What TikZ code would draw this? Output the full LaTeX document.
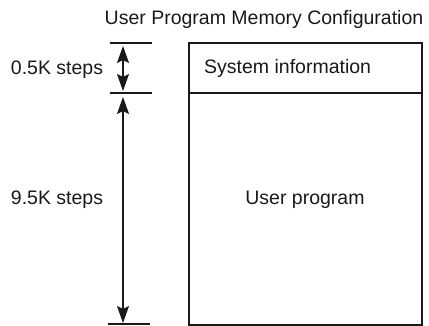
\documentclass[tikz,border=0pt]{standalone}
\usepackage{fontspec}
\setmainfont{Liberation Sans}
\usetikzlibrary{arrows.meta}
\begin{document}
\begin{tikzpicture}[x=1pt,y=-1pt,
  lbl/.style={font=\fontsize{19.5}{22}\selectfont, text=black!90, inner sep=0pt, anchor=base},
  tick/.style={line width=1.8pt, black!90},
  boxline/.style={draw=black!90, line width=1.6pt},
  dim/.style={line width=1.2pt, black!90, {Stealth[length=17pt,width=12pt,inset=3pt]}-{Stealth[length=17pt,width=12pt,inset=3pt]}, shorten <=3pt, shorten >=2pt}]
\useasboundingbox (0,0) rectangle (429,326);
% texts
\node[lbl] (title) at (264,25) {User Program Memory Configuration};
\node[lbl] (small) at (57,75) {0.5K steps};
\node[lbl] (big) at (57,205) {9.5K steps};
% boxes
\node[boxline, minimum width=233pt, minimum height=50pt, inner sep=0pt] (sys) at (305.5,68) {};
\node[boxline, minimum width=233pt, minimum height=232pt, inner sep=0pt] (usr) at (305.5,209) {};
\node[lbl, anchor=base west] (systxt) at (204,74) {System information};
\node[lbl] (usrtxt) at (305,205) {User program};
% ticks
\coordinate (t1a) at (110,43); \coordinate (t1b) at (152,43);
\coordinate (t2a) at (110,93); \coordinate (t2b) at (152,93);
\coordinate (t3a) at (108,324); \coordinate (t3b) at (150,324);
\draw[tick] (t1a) -- (t1b);
\draw[tick] (t2a) -- (t2b);
\draw[tick] (t3a) -- (t3b);
% dimension arrows
\coordinate (a1) at (123,43); \coordinate (a2) at (123,93); \coordinate (a3) at (123,324);
\draw[dim] (a1) -- (a2);
\draw[dim, shorten <=4pt, shorten >=1pt] (a2) -- (a3);
\end{tikzpicture}
\end{document}
